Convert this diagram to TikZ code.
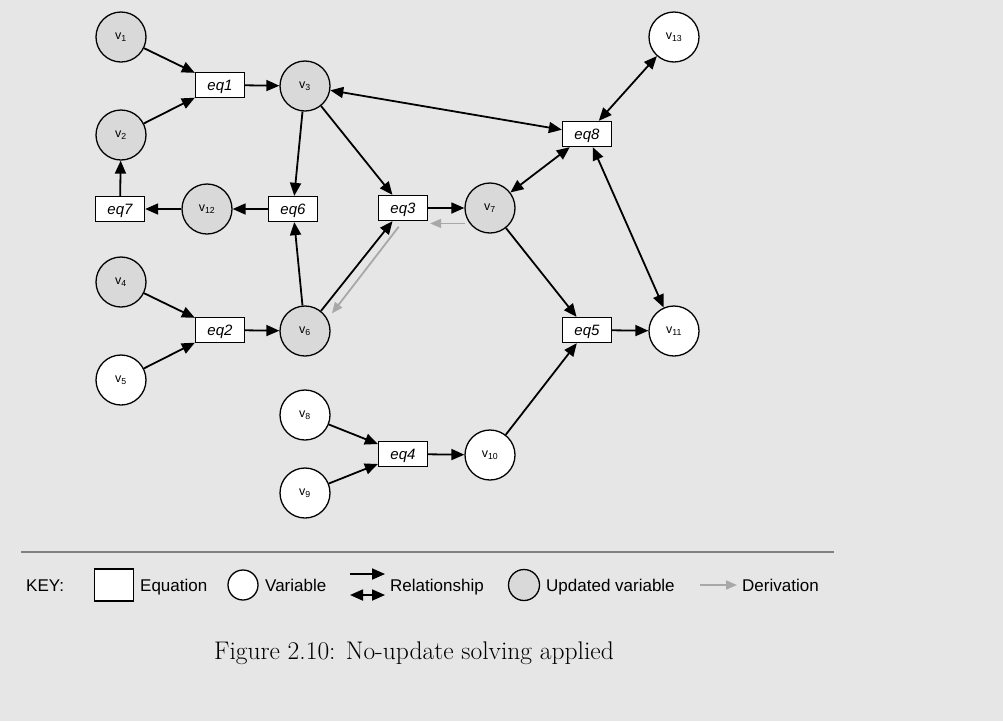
\documentclass[tikz,border=0pt]{standalone}
\usepackage{fontspec}
\newfontfamily\arialfont{Liberation Sans}
\usetikzlibrary{arrows.meta}
\definecolor{bgcol}{HTML}{E6E6E6}
\definecolor{updcol}{HTML}{D9D9D9}
\definecolor{derivcol}{HTML}{A8A8A8}
\definecolor{rulecol}{HTML}{808080}
\tikzset{
  var/.style={circle, draw=black, line width=1.3pt, fill=white, minimum size=50pt,
    inner sep=0pt, font=\arialfont\fontsize{12.5}{14}\selectfont},
  upd/.style={var, fill=updcol},
  eqbox/.style={rectangle, draw=black, line width=1.3pt, fill=white, minimum width=49pt,
    minimum height=25pt, inner sep=0pt, text depth=0pt,
    font=\arialfont\itshape\fontsize{15}{17}\selectfont},
  tip/.tip={Triangle[length=13pt,width=11pt]},
  rel/.style={line width=1.8pt, -tip},
  birel/.style={line width=1.8pt, tip-tip},
  deriv/.style={line width=1.8pt, draw=derivcol, -{Triangle[length=11pt,width=9pt]}},
  legtext/.style={font=\arialfont\fontsize{17}{20}\selectfont, anchor=base west, inner sep=0pt},
}
\newcommand\vsub[1]{v\textsubscript{#1}}
\begin{document}
\begin{tikzpicture}[x=1pt,y=-1pt]
  % page background
  \fill[bgcol] (0,0) rectangle (1003,721);
  \useasboundingbox (0,0) rectangle (1003,721);

  % equations
  \node[eqbox] (eq1) at (220,85)  {eq1};
  \node[eqbox] (eq2) at (220,330) {eq2};
  \node[eqbox] (eq3) at (403,208) {eq3};
  \node[eqbox] (eq4) at (403,454) {eq4};
  \node[eqbox] (eq5) at (587,330) {eq5};
  \node[eqbox] (eq6) at (293,209) {eq6};
  \node[eqbox] (eq7) at (120,209) {eq7};
  \node[eqbox] (eq8) at (587,134) {eq8};

  % variables
  \node[upd] (v1)  at (121,37)  {\vsub{1}};
  \node[upd] (v2)  at (121,135) {\vsub{2}};
  \node[upd] (v3)  at (305,86)  {\vsub{3}};
  \node[upd] (v4)  at (121,282) {\vsub{4}};
  \node[var] (v5)  at (121,380) {\vsub{5}};
  \node[upd] (v6)  at (305,331) {\vsub{6}};
  \node[upd] (v7)  at (490,208) {\vsub{7}};
  \node[var] (v8)  at (305,415) {\vsub{8}};
  \node[var] (v9)  at (305,493) {\vsub{9}};
  \node[var] (v10) at (490,455) {\vsub{10}};
  \node[var] (v11) at (674,331) {\vsub{11}};
  \node[upd] (v12) at (207,209) {\vsub{12}};
  \node[var] (v13) at (674,37)  {\vsub{13}};

  % relationships
  \draw[rel] (v1) -- (eq1);
  \draw[rel] (v2) -- (eq1);
  \draw[rel] (eq1) -- (v3);
  \draw[rel] (v3) -- (eq6);
  \draw[rel] (v3) -- (eq3);
  \draw[birel] (v3) -- (eq8);
  \draw[rel] (eq6) -- (v12);
  \draw[rel] (v12) -- (eq7);
  \draw[rel] (eq7) -- (v2);
  \draw[rel] (v4) -- (eq2);
  \draw[rel] (v5) -- (eq2);
  \draw[rel] (eq2) -- (v6);
  \draw[rel] (v6) -- (eq6);
  \draw[rel] (v6) -- (eq3);
  \draw[rel] (eq3) -- (v7);
  \draw[birel] (v7) -- (eq8);
  \draw[birel] (v13) -- (eq8);
  \draw[birel] (eq8) -- (v11);
  \draw[rel] (v7) -- (eq5);
  \draw[rel] (eq5) -- (v11);
  \draw[rel] (v10) -- (eq5);
  \draw[rel] (v8) -- (eq4);
  \draw[rel] (v9) -- (eq4);
  \draw[rel] (eq4) -- (v10);

  % derivations
  \draw[deriv, shorten <=5pt, shorten >=2pt] (v7.217) -- (v7.217 -| eq3.east);
  \draw[deriv, shorten <=7pt, shorten >=7pt] (eq3.south) -- (v6.28);

  % key
  \draw[rulecol, line width=2pt] (21,552) -- (834,552);
  \node[legtext] (key) at (26,591) {KEY:};
  \node[draw=black, line width=1.3pt, fill=white, minimum width=39pt, minimum height=32pt,
        inner sep=0pt] (kbox) at (114,585) {};
  \node[legtext] (keq) at (140,591) {Equation};
  \node[draw=black, line width=1.3pt, fill=white, circle, minimum size=30pt,
        inner sep=0pt] (kvar) at (243,585) {};
  \node[legtext] (kvartext) at (265,591) {Variable};
  \coordinate (ka1) at (350,574);
  \coordinate (ka2) at (385,574);
  \coordinate (kb1) at (350,595);
  \coordinate (kb2) at (385,595);
  \draw[rel] (ka1) -- (ka2);
  \draw[birel] (kb1) -- (kb2);
  \node[legtext] (krel) at (390,591) {Relationship};
  \node[draw=black, line width=1.3pt, fill=updcol, circle, minimum size=31pt,
        inner sep=0pt] (kupd) at (524,585) {};
  \node[legtext] (kupdtext) at (546,591) {Updated variable};
  \coordinate (kd1) at (700,585);
  \coordinate (kd2) at (737,585);
  \draw[deriv] (kd1) -- (kd2);
  \node[legtext] (kder) at (742,591) {Derivation};

  % caption
  \node[font=\fontsize{25.5}{30}\selectfont, anchor=base, inner sep=0pt] (cap) at (414,659)
    {Figure 2.10: No-update solving applied};
\end{tikzpicture}
\end{document}
